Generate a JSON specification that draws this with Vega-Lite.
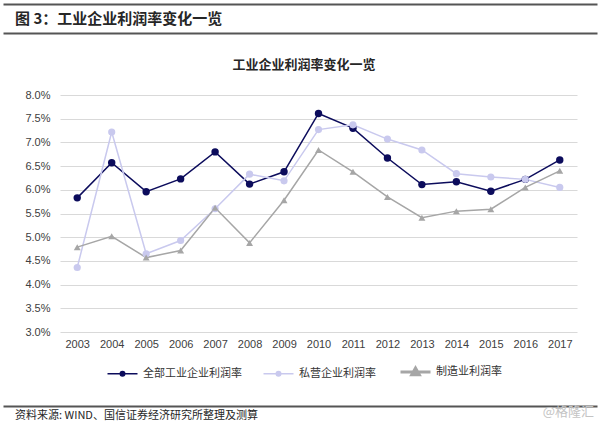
{
  "$schema": "https://vega.github.io/schema/vega-lite/v6.json",
  "background": "white",
  "padding": {"left": 3, "top": 4, "right": 3, "bottom": 0},
  "spacing": 26,
  "config": {"view": {"stroke": null}, "font": "Noto Sans CJK SC"},
  "resolve": {"scale": {"color": "independent", "x": "independent", "y": "independent"}, "legend": {"color": "independent"}},
  "vconcat": [
    {
      "width": 594,
      "height": 29,
      "data": {"values": [{"label": "图 3：工业企业利润率变化一览"}]},
      "mark": {"type": "text", "align": "left", "baseline": "middle", "dx": 12, "fontSize": 15, "fontWeight": "bold", "color": "#262626"},
      "encoding": {
        "text": {"field": "label"},
        "x": {"datum": 0, "type": "quantitative", "scale": {"domain": [0, 1]}, "axis": null},
        "y": {"datum": 0.5, "type": "quantitative", "scale": {"domain": [0, 1]}, "axis": {"values": [0, 1], "grid": true, "gridColor": "#555555", "gridWidth": 2, "labels": false, "ticks": false, "domain": false, "title": null, "minExtent": 0, "maxExtent": 0}}
      }
    },
    {
      "spacing": 24,
      "resolve": {"scale": {"color": "independent", "x": "independent", "y": "independent"}, "legend": {"color": "independent"}},
      "vconcat": [
        {
          "width": 574,
          "height": 237,
          "title": {"text": "工业企业利润率变化一览", "fontSize": 13, "fontWeight": "bold", "color": "#262626", "offset": 17, "dx": 14},
          "data": {"values": [
            {"year": "2003", "series": "全部工业企业利润率", "value": 5.83},
            {"year": "2004", "series": "全部工业企业利润率", "value": 6.57},
            {"year": "2005", "series": "全部工业企业利润率", "value": 5.96},
            {"year": "2006", "series": "全部工业企业利润率", "value": 6.23},
            {"year": "2007", "series": "全部工业企业利润率", "value": 6.80},
            {"year": "2008", "series": "全部工业企业利润率", "value": 6.12},
            {"year": "2009", "series": "全部工业企业利润率", "value": 6.38},
            {"year": "2010", "series": "全部工业企业利润率", "value": 7.61},
            {"year": "2011", "series": "全部工业企业利润率", "value": 7.30},
            {"year": "2012", "series": "全部工业企业利润率", "value": 6.67},
            {"year": "2013", "series": "全部工业企业利润率", "value": 6.11},
            {"year": "2014", "series": "全部工业企业利润率", "value": 6.17},
            {"year": "2015", "series": "全部工业企业利润率", "value": 5.97},
            {"year": "2016", "series": "全部工业企业利润率", "value": 6.22},
            {"year": "2017", "series": "全部工业企业利润率", "value": 6.63},
            {"year": "2003", "series": "私营企业利润率", "value": 4.36},
            {"year": "2004", "series": "私营企业利润率", "value": 7.22},
            {"year": "2005", "series": "私营企业利润率", "value": 4.65},
            {"year": "2006", "series": "私营企业利润率", "value": 4.93},
            {"year": "2007", "series": "私营企业利润率", "value": 5.60},
            {"year": "2008", "series": "私营企业利润率", "value": 6.33},
            {"year": "2009", "series": "私营企业利润率", "value": 6.19},
            {"year": "2010", "series": "私营企业利润率", "value": 7.27},
            {"year": "2011", "series": "私营企业利润率", "value": 7.37},
            {"year": "2012", "series": "私营企业利润率", "value": 7.07},
            {"year": "2013", "series": "私营企业利润率", "value": 6.84},
            {"year": "2014", "series": "私营企业利润率", "value": 6.34},
            {"year": "2015", "series": "私营企业利润率", "value": 6.27},
            {"year": "2016", "series": "私营企业利润率", "value": 6.22},
            {"year": "2017", "series": "私营企业利润率", "value": 6.05},
            {"year": "2003", "series": "制造业利润率", "value": 4.79},
            {"year": "2004", "series": "制造业利润率", "value": 5.02},
            {"year": "2005", "series": "制造业利润率", "value": 4.57},
            {"year": "2006", "series": "制造业利润率", "value": 4.72},
            {"year": "2007", "series": "制造业利润率", "value": 5.62},
            {"year": "2008", "series": "制造业利润率", "value": 4.88},
            {"year": "2009", "series": "制造业利润率", "value": 5.78},
            {"year": "2010", "series": "制造业利润率", "value": 6.84},
            {"year": "2011", "series": "制造业利润率", "value": 6.38},
            {"year": "2012", "series": "制造业利润率", "value": 5.85},
            {"year": "2013", "series": "制造业利润率", "value": 5.41},
            {"year": "2014", "series": "制造业利润率", "value": 5.55},
            {"year": "2015", "series": "制造业利润率", "value": 5.59},
            {"year": "2016", "series": "制造业利润率", "value": 6.05},
            {"year": "2017", "series": "制造业利润率", "value": 6.40}
          ]},
          "encoding": {
            "x": {"field": "year", "type": "ordinal", "scale": {"type": "point", "padding": 0.5, "range": [57, 574]},
              "axis": {"labelAngle": 0, "ticks": false, "domain": false, "grid": false, "title": null, "labelPadding": 6, "labelFontSize": 11, "labelFont": "Liberation Sans", "labelColor": "#404040"}},
            "y": {"field": "value", "type": "quantitative", "scale": {"domain": [3, 8], "zero": false, "nice": false},
              "axis": {"values": [3, 3.5, 4, 4.5, 5, 5.5, 6, 6.5, 7, 7.5, 8], "labelExpr": "format(datum.value, '.1f') + '%'", "grid": true, "gridColor": "#d9d9d9", "gridWidth": 1, "ticks": false, "domain": false, "title": null, "offset": -57, "labelPadding": 10, "labelFontSize": 11, "labelFont": "Liberation Sans", "labelColor": "#404040", "minExtent": 0, "maxExtent": 0}},
            "color": {"field": "series", "type": "nominal",
              "scale": {"domain": ["全部工业企业利润率", "私营企业利润率", "制造业利润率"], "range": ["#0c0c5c", "#c9c9ee", "#a6a6a6"]},
              "legend": {"orient": "none", "legendX": 114, "legendY": 271, "direction": "horizontal", "title": null, "symbolSize": 100, "labelFontSize": 11, "labelFont": "Noto Sans CJK SC", "labelColor": "#333333", "columnPadding": 18, "labelOffset": 15,
                "encode": {"symbols": {"update": {
                  "shape": {"signal": "datum.value === '制造业利润率' ? 'M-3,0H3M-0.75,0.55L0,-0.75L0.75,0.55Z' : 'M-3,0H3M-0.45,0A0.45,0.45 0 1 1 0.45,0A0.45,0.45 0 1 1 -0.45,0Z'"},
                  "strokeWidth": {"signal": "datum.value === '制造业利润率' ? 3 : 1.5"},
                  "fill": {"signal": "datum.value === '全部工业企业利润率' ? '#0c0c5c' : datum.value === '私营企业利润率' ? '#c9c9ee' : '#a6a6a6'"},
                  "stroke": {"signal": "datum.value === '全部工业企业利润率' ? '#0c0c5c' : datum.value === '私营企业利润率' ? '#c9c9ee' : '#a6a6a6'"},
                  "size": {"value": 100},
                  "opacity": {"value": 1}
                }}}}
            }
          },
          "layer": [
            {
              "mark": {"type": "line"},
              "encoding": {
                "strokeWidth": {"field": "series", "type": "nominal", "scale": {"domain": ["全部工业企业利润率", "私营企业利润率", "制造业利润率"], "range": [1.5, 1.5, 3]}, "legend": null}
              }
            },
            {
              "mark": {"type": "point", "filled": true, "opacity": 1},
              "encoding": {
                "shape": {"field": "series", "type": "nominal", "scale": {"domain": ["全部工业企业利润率", "私营企业利润率", "制造业利润率"], "range": ["circle", "circle", "triangle-up"]}, "legend": null},
                "size": {"field": "series", "type": "nominal", "scale": {"domain": ["全部工业企业利润率", "私营企业利润率", "制造业利润率"], "range": [55, 48, 60]}, "legend": null}
              }
            }
          ]
        },
        {
          "width": 594,
          "height": 18,
          "data": {"values": [
            {"label": "资料来源: WIND、国信证券经济研究所整理及测算", "part": "source"},
            {"label": "@格隆汇", "part": "watermark"}
          ]},
          "mark": {"type": "text", "baseline": "middle",
            "align": {"expr": "datum.part === 'watermark' ? 'right' : 'left'"},
            "dx": {"expr": "datum.part === 'watermark' ? -3 : 12"},
            "dy": {"expr": "datum.part === 'watermark' ? -4 : 0"},
            "fontSize": {"expr": "datum.part === 'watermark' ? 13 : 11"},
            "color": {"expr": "datum.part === 'watermark' ? '#c4c4c4' : '#262626'"}},
          "encoding": {
            "text": {"field": "label"},
            "x": {"field": "part", "type": "nominal", "scale": {"type": "point", "domain": ["source", "watermark"], "padding": 0}, "axis": null},
            "y": {"datum": 0.45, "type": "quantitative", "scale": {"domain": [0, 1]}, "axis": {"values": [1], "grid": true, "gridColor": "#555555", "gridWidth": 2, "labels": false, "ticks": false, "domain": false, "title": null, "minExtent": 0, "maxExtent": 0}}
          }
        }
      ]
    }
  ]
}
